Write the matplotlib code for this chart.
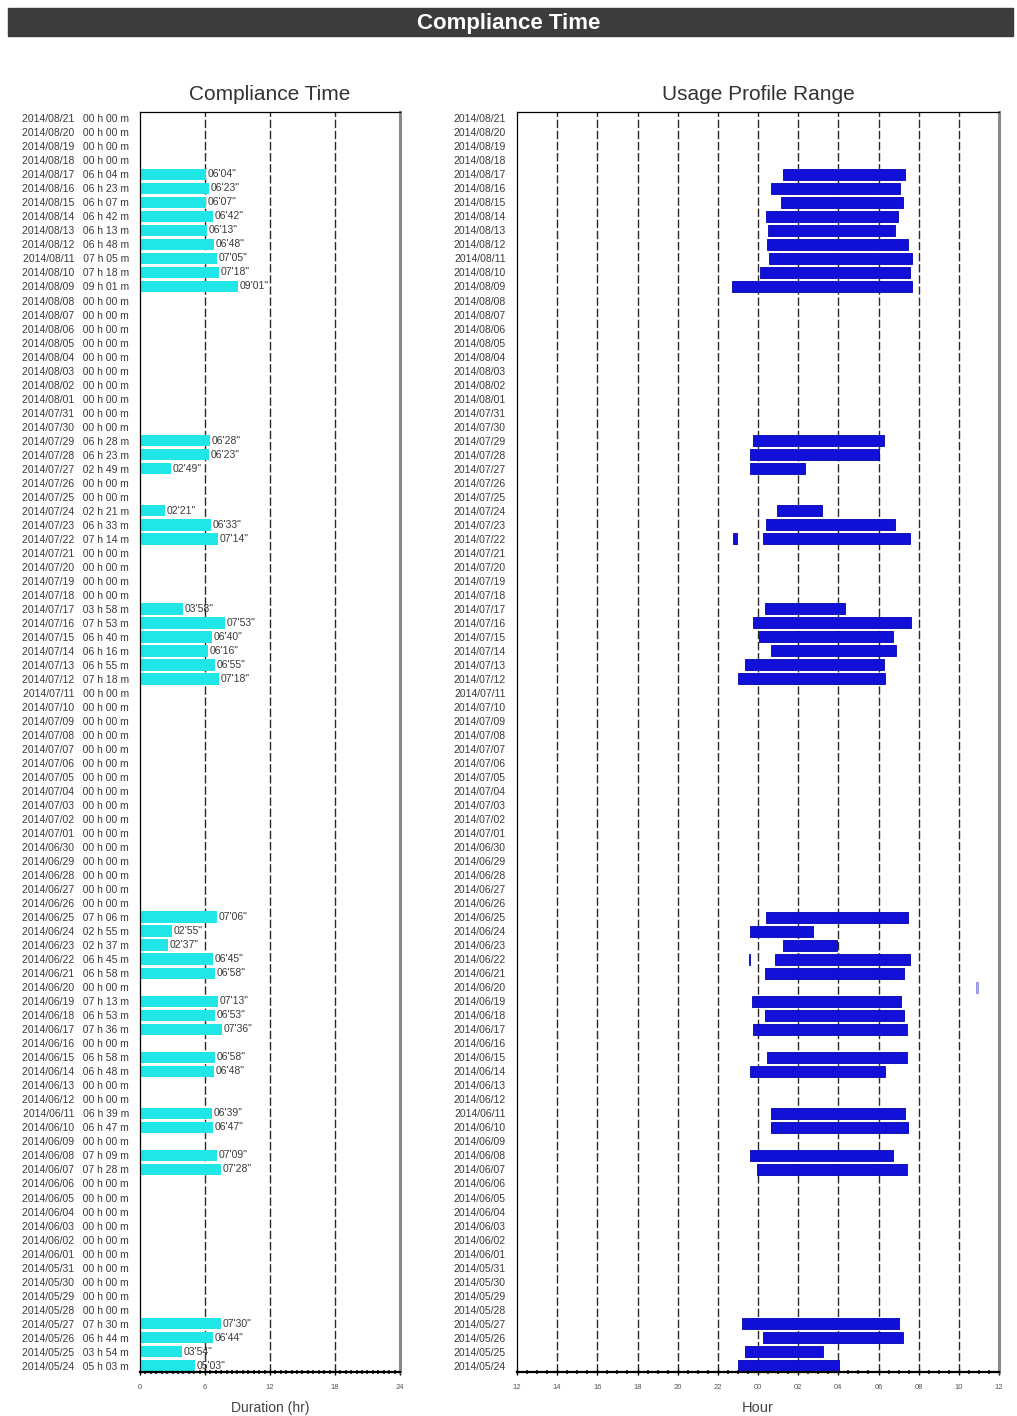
import matplotlib
matplotlib.use('Agg')
import matplotlib.pyplot as plt
from matplotlib.patches import Rectangle
import numpy as np
import pandas as pd

plt.rcParams['font.family'] = ['Liberation Sans', 'DejaVu Sans']

# rows, newest first
first_day = '2014-08-21'
n_days = 90
days = pd.date_range(end=first_day, periods=n_days)[::-1]
day_labels = [d.strftime('%Y/%m/%d') for d in days]

# compliance per day (hours, minutes)
used_days = ['2014/08/17', '2014/08/16', '2014/08/15', '2014/08/14', '2014/08/13',
             '2014/08/12', '2014/08/11', '2014/08/10', '2014/08/09',
             '2014/07/29', '2014/07/28', '2014/07/27', '2014/07/24', '2014/07/23', '2014/07/22',
             '2014/07/17', '2014/07/16', '2014/07/15', '2014/07/14', '2014/07/13', '2014/07/12',
             '2014/06/25', '2014/06/24', '2014/06/23', '2014/06/22', '2014/06/21', '2014/06/19',
             '2014/06/18', '2014/06/17', '2014/06/15', '2014/06/14', '2014/06/11', '2014/06/10',
             '2014/06/08', '2014/06/07',
             '2014/05/27', '2014/05/26', '2014/05/25', '2014/05/24']
used_h = [6, 6, 6, 6, 6, 6, 7, 7, 9,
          6, 6, 2, 2, 6, 7,
          3, 7, 6, 6, 6, 7,
          7, 2, 2, 6, 6, 7, 6, 7, 6, 6, 6, 6, 7, 7,
          7, 6, 3, 5]
used_m = [4, 23, 7, 42, 13, 48, 5, 18, 1,
          28, 23, 49, 21, 33, 14,
          58, 53, 40, 16, 55, 18,
          6, 55, 37, 45, 58, 13, 53, 36, 58, 48, 39, 47, 9, 28,
          30, 44, 54, 3]

# usage sessions, hours on a noon-to-noon scale (12..36)
sess_days = ['2014/08/17', '2014/08/16', '2014/08/15', '2014/08/14', '2014/08/13',
             '2014/08/12', '2014/08/11', '2014/08/10', '2014/08/09',
             '2014/07/29', '2014/07/28', '2014/07/27', '2014/07/24', '2014/07/23',
             '2014/07/22', '2014/07/22',
             '2014/07/17', '2014/07/16', '2014/07/15', '2014/07/14', '2014/07/13', '2014/07/12',
             '2014/06/25', '2014/06/24', '2014/06/23', '2014/06/22', '2014/06/22', '2014/06/21',
             '2014/06/20', '2014/06/19', '2014/06/18', '2014/06/17', '2014/06/15', '2014/06/14',
             '2014/06/11', '2014/06/10', '2014/06/08', '2014/06/07',
             '2014/05/27', '2014/05/26', '2014/05/25', '2014/05/24']
sess_start = [25.25, 24.65, 25.15, 24.4, 24.5, 24.45, 24.55, 24.1, 22.7,
              23.75, 23.6, 23.6, 24.95, 24.4,
              22.75, 24.25,
              24.35, 23.75, 24.05, 24.65, 23.35, 23.0,
              24.4, 23.6, 25.23, 23.55, 24.85, 24.35,
              34.85, 23.69, 24.35, 23.74, 24.43, 23.6,
              24.65, 24.65, 23.6, 23.95,
              23.2, 24.25, 23.33, 23.0]
sess_end = [31.3, 31.07, 31.22, 30.97, 30.8, 31.47, 31.67, 31.57, 31.67,
            30.28, 30.03, 26.34, 27.19, 30.8,
            22.95, 31.57,
            28.33, 31.62, 30.72, 30.87, 30.28, 30.33,
            31.46, 26.72, 27.95, 23.62, 31.57, 31.27,
            34.95, 31.1, 31.27, 31.4, 31.4, 30.33,
            31.32, 31.47, 30.72, 31.42,
            31.0, 31.2, 27.26, 28.04]

hour_ticks = list(range(12, 37, 2))
hour_labels = ['%02d' % (h % 24) for h in hour_ticks]
dur_ticks = [0, 6, 12, 18, 24]

rows = np.arange(n_days)
row_of = {d: i for i, d in enumerate(day_labels)}

comp_h = np.zeros(n_days, dtype=int)
comp_m = np.zeros(n_days, dtype=int)
for d, h, m in zip(used_days, used_h, used_m):
    comp_h[row_of[d]] = h
    comp_m[row_of[d]] = m
comp = comp_h + comp_m / 60.0

fig = plt.figure(figsize=(10.17, 14.16), dpi=100)

# banner
fig.patches.append(Rectangle((8/1017, 1-36/1416), 1005/1017, 28/1416,
                             transform=fig.transFigure, color='#3c3c3c', zorder=0))
fig.text(0.5, 1-23/1416, 'Compliance Time', color='white', fontsize=16,
         fontweight='bold', ha='center', va='center')

ax1 = fig.add_axes([140/1017, 1-1372/1416, 260/1017, 1260/1416])
ax2 = fig.add_axes([517/1017, 1-1372/1416, 482/1017, 1260/1416])

grid_kw = dict(color='#2a2a2a', linestyle=(0, (6, 2)), linewidth=1.0, zorder=1)

# compliance bars
ax1.barh(rows, comp, height=0.82, color='#20e6e6', edgecolor='none', zorder=2)
for i in rows:
    if comp[i] > 0:
        ax1.text(comp[i] + 0.15, i, "%02d'%02d\"" % (comp_h[i], comp_m[i]),
                 fontsize=7.5, color='#3a3a3a', va='center', ha='left', zorder=3)
ax1.set_xlim(0, 24)
ax1.set_ylim(n_days - 0.55, -0.45)
for x in dur_ticks[1:-1]:
    ax1.axvline(x, **grid_kw)
ax1.set_xticks(dur_ticks)
ax1.set_xticklabels([str(t) for t in dur_ticks])
ax1.set_yticks(rows)
ax1.set_yticklabels(['%s   %02d h %02d m' % (d, h, m)
                     for d, h, m in zip(day_labels, comp_h, comp_m)])
ax1.set_title('Compliance Time', fontsize=15, color='#333333', pad=9)
ax1.set_xlabel('Duration (hr)', fontsize=10, color='#444444', labelpad=7)

# usage sessions
for d, s, e in zip(sess_days, sess_start, sess_end):
    a = 0.35 if e - s < 0.15 and s > 33 else 1.0
    ax2.barh(row_of[d], e - s, left=s, height=0.78, color='#1010d8',
             edgecolor='#0000b0', linewidth=0.6, alpha=a, zorder=2)
ax2.set_xlim(12, 36)
ax2.set_ylim(n_days - 0.55, -0.45)
for x in hour_ticks[1:-1]:
    ax2.axvline(x, **grid_kw)
ax2.set_xticks(hour_ticks)
ax2.set_xticklabels(hour_labels)
ax2.set_yticks(rows)
ax2.set_yticklabels(day_labels)
ax2.set_title('Usage Profile Range', fontsize=15, color='#333333', pad=9)
ax2.set_xlabel('Hour', fontsize=10.5, color='#444444', labelpad=7)

for ax in (ax1, ax2):
    lo, hi = ax.get_xlim()
    ax.set_xticks(np.arange(lo, hi + 0.01, 0.5), minor=True)
    ax.tick_params(axis='x', which='minor', length=3, width=1.2, direction='inout', color='#222222')
    ax.tick_params(axis='x', which='major', length=5, width=1.0, direction='inout',
                   labelsize=5.5, labelcolor='#555555', pad=6)
    ax.tick_params(axis='y', length=0, labelsize=7.5, labelcolor='#3a3a3a', pad=8)
    ax.spines['bottom'].set_linewidth(1.6)
    ax.spines['left'].set_linewidth(0.9)
    ax.spines['top'].set_linewidth(0.9)
    ax.spines['right'].set_linewidth(2.2)
    ax.spines['right'].set_color('#888888')

plt.savefig('out.png', dpi=100)
